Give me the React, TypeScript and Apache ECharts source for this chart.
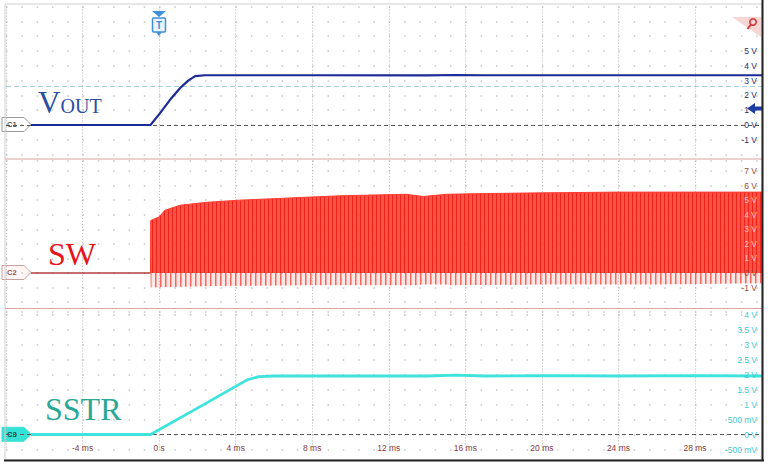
import React, { useEffect, useRef } from 'react';
import * as echarts from 'echarts';

// ---- data (time in ms, voltage in V) ----
const timeTickLabels = ['-4 ms', '0 s', '4 ms', '8 ms', '12 ms', '16 ms', '20 ms', '24 ms', '28 ms'];

const voutTime = [-6.7, -0.45, 0.05, 0.57, 1.1, 1.52, 1.88, 2.4, 8, 14, 15.5, 17, 22, 31.5];
const voutVolts = [0, 0, 0.8, 1.7, 2.5, 3.0, 3.3, 3.36, 3.36, 3.35, 3.38, 3.36, 3.36, 3.36];

const swBaseTime = [-6.7, -0.45];
const swBaseVolts = [0, 0];

const swTopTime = [-0.45, -0.44, 0.0, 0.3, 1.1, 2.5, 4.2, 6.0, 7.7, 9.5, 12.9, 13.8, 15.0, 17.0, 20.0, 24.0, 28.0, 31.5];
const swTopVolts = [0, 3.6, 3.85, 4.3, 4.65, 4.85, 5.0, 5.1, 5.2, 5.3, 5.4, 5.25, 5.4, 5.45, 5.5, 5.55, 5.55, 5.55];

const swLowTime = [-0.45, -0.44, 3.0, 8.0, 13.6, 13.7, 15.0, 15.1, 20.0, 26.0, 31.5];
const swLowVolts = [0, -1.0, -0.9, -0.85, -0.85, -0.8, -0.8, -0.85, -0.8, -0.8, -0.7];

const sstrTime = [-6.7, -0.45, 2.0, 4.6, 5.2, 6.0, 10, 14, 15.5, 17, 20, 24, 28, 31.5];
const sstrVolts = [0, 0, 0.88, 1.82, 1.93, 1.95, 1.95, 1.95, 1.98, 1.95, 1.96, 1.95, 1.96, 1.95];

const voutTicks = [-1, 0, 1, 2, 3, 4, 5];
const swTicks = [-1, 0, 1, 2, 3, 4, 5, 6, 7];
const sstrTicks = [-0.5, 0, 0.5, 1, 1.5, 2, 2.5, 3, 3.5, 4];

const zip = (a: number[], b: number[]) => a.map((t, i) => [t, b[i]]);

function stripePattern(w: number, lineW: number, color: string, bg: string) {
  const c = document.createElement('canvas');
  c.width = w;
  c.height = 8;
  const ctx = c.getContext('2d');
  if (ctx) {
    ctx.fillStyle = bg;
    ctx.fillRect(0, 0, w, 8);
    ctx.fillStyle = color;
    ctx.fillRect(0, 0, lineW, 8);
  }
  return c;
}

export default function App() {
  const ref = useRef<HTMLDivElement>(null);

  useEffect(() => {
    if (!ref.current) return;
    const chart = echarts.init(ref.current, undefined, { renderer: 'svg' });

    const X_MIN = -8;
    const X_MAX = 31.5;
    const LEFT = 6;
    const RIGHT = 11;
    const dotDash = [1.5, 13.81];

    const panels = [
      { min: -2, max: 8, interval: 1, top: 6.6, height: 148 },
      { min: -2, max: 7.7, interval: 1, top: 160.8, height: 141.3 },
      { min: -0.5, max: 4.1, interval: 0.5, top: 311.5, height: 138 },
    ];

    const grid = panels.map((p) => ({ left: LEFT, right: RIGHT, top: p.top, height: p.height }));

    const xAxis = panels.map((_, i) => ({
      type: 'value',
      gridIndex: i,
      min: X_MIN,
      max: X_MAX,
      interval: 4,
      axisLine: { show: false },
      axisTick: { show: false },
      axisLabel:
        i === 2
          ? {
              show: true,
              showMinLabel: false,
              margin: -6,
              fontSize: 8.5,
              fontFamily: 'Liberation Sans',
              color: '#8a3a3a',
              formatter: (v: number) => {
                const idx = Math.round(v / 4) + 1;
                return timeTickLabels[idx] ?? '';
              },
            }
          : { show: false },
      splitLine: { show: true, lineStyle: { color: '#b8b8b8', type: [1, 2], width: 1 } },
    }));

    const fmtV = (v: number) => `${v} V`;
    const fmtMv = (v: number) => (Math.abs(v) < 1 && v !== 0 ? `${Math.round(v * 1000)} mV` : `${v} V`);

    const labelColor = (i: number) =>
      i === 0
        ? '#1f2d6e'
        : i === 1
        ? (val: any) => {
            const n = Number(val);
            return n >= 1 && n <= 5 ? 'rgba(255,210,200,0.9)' : '#9a4a40';
          }
        : '#3fc9d2';

    const yAxis: any[] = [];
    panels.forEach((p, i) => {
      yAxis.push({
        type: 'value',
        gridIndex: i,
        position: 'right',
        min: p.min,
        max: p.max,
        interval: p.interval,
        axisLine: { show: false },
        axisTick: { show: false },
        axisLabel: { show: false },
        splitLine: {
          show: true,
          lineStyle: { color: '#c6c6c6', width: 1.5, type: dotDash, dashOffset: 0 },
        },
      });
    });
    panels.forEach((p, i) => {
      const ticks = i === 0 ? voutTicks : i === 1 ? swTicks : sstrTicks;
      yAxis.push({
        type: 'value',
        gridIndex: i,
        position: 'right',
        min: p.min,
        max: p.max,
        interval: p.interval,
        z: 5,
        axisLine: { show: false },
        axisTick: { show: false },
        splitLine: { show: false },
        axisLabel: {
          inside: true,
          margin: 5,
          fontSize: 8.5,
          fontFamily: 'Liberation Sans',
          color: labelColor(i),
          formatter: (v: number) => {
            const ok = ticks.some((t) => Math.abs(t - v) < 1e-6);
            if (!ok) return '';
            return i === 2 ? fmtMv(v) : fmtV(v);
          },
        },
      });
    });

    const zeroLine = { yAxis: 0, lineStyle: { color: '#5a5a5a', type: [4, 3], width: 1 } };

    const series: any[] = [
      {
        name: 'VOUT',
        type: 'line',
        xAxisIndex: 0,
        yAxisIndex: 0,
        data: zip(voutTime, voutVolts),
        symbol: 'none',
        lineStyle: { color: '#1b2a96', width: 2.2 },
        z: 4,
        markLine: {
          silent: true,
          symbol: 'none',
          label: { show: false },
          z: 2,
          data: [zeroLine, { yAxis: 2.6, lineStyle: { color: '#a8cfe2', type: [5, 3], width: 1.2 } }],
        },
      },
      {
        name: 'SW base',
        type: 'line',
        xAxisIndex: 1,
        yAxisIndex: 1,
        data: zip(swBaseTime, swBaseVolts),
        symbol: 'none',
        lineStyle: { color: '#b43c3c', width: 1.5 },
      },
      {
        name: 'SW low',
        type: 'line',
        xAxisIndex: 1,
        yAxisIndex: 1,
        data: zip(swLowTime, swLowVolts),
        symbol: 'none',
        lineStyle: { width: 0 },
        areaStyle: {
          color: { image: stripePattern(5, 1.5, 'rgba(240,60,50,0.75)', 'rgba(250,120,110,0.18)'), repeat: 'repeat' },
          opacity: 1,
        },
      },
      {
        name: 'SW',
        type: 'line',
        xAxisIndex: 1,
        yAxisIndex: 1,
        data: zip(swTopTime, swTopVolts),
        symbol: 'none',
        lineStyle: { color: '#ff3b30', width: 1 },
        areaStyle: {
          opacity: 1,
          color: { image: stripePattern(4, 1, 'rgba(236,36,28,0.97)', 'rgba(255,62,50,0.9)'), repeat: 'repeat' },
        },
      },
      {
        name: 'SSTR',
        type: 'line',
        xAxisIndex: 2,
        yAxisIndex: 2,
        data: zip(sstrTime, sstrVolts),
        symbol: 'none',
        lineStyle: { color: '#3de3dc', width: 2.8 },
        z: 4,
        markLine: {
          silent: true,
          symbol: 'none',
          label: { show: false },
          z: 2,
          data: [zeroLine],
        },
      },
    ];

    const serif = 'Liberation Serif';
    const tag = (label: string, cy: number, fill: string, stroke: string, textColor: string) => ({
      type: 'group',
      z: 20,
      children: [
        {
          type: 'polygon',
          shape: { points: [[2, cy - 7], [24, cy - 7], [31, cy], [24, cy + 7], [2, cy + 7]] },
          style: { fill, stroke, lineWidth: 1 },
        },
        {
          type: 'text',
          x: 7,
          y: cy,
          style: { text: label, fill: textColor, fontSize: 7.5, fontWeight: 'bold', fontFamily: 'Liberation Sans', verticalAlign: 'middle' },
        },
      ],
    });

    const graphic: any[] = [
      { type: 'rect', shape: { x: 5, y: 4, width: 757, height: 456 }, style: { fill: 'none', stroke: '#d0d0d0', lineWidth: 1 }, z: 1 },
      { type: 'line', shape: { x1: 4, y1: 460.5, x2: 764, y2: 460.5 }, style: { stroke: '#222', lineWidth: 2 }, z: 30 },
      { type: 'line', shape: { x1: 762.5, y1: 0, x2: 762.5, y2: 461 }, style: { stroke: '#222', lineWidth: 2 }, z: 30 },
      { type: 'line', shape: { x1: 5, y1: 159, x2: 762, y2: 159 }, style: { stroke: '#d9a29c', lineWidth: 1 }, z: 10 },
      { type: 'line', shape: { x1: 5, y1: 308.5, x2: 762, y2: 308.5 }, style: { stroke: '#d9a29c', lineWidth: 1 }, z: 10 },
      tag('C1', 124.5, '#ffffff', '#9a9a9a', '#555555'),
      tag('C2', 272.5, '#fff5f4', '#c9a09c', '#8a5a55'),
      tag('C3', 434.3, '#34e2d6', '#34e2d6', '#0f4a48'),
      { type: 'text', x: 38, y: 102.5, z: 20, style: { text: 'V', fontSize: 31, fontFamily: serif, fill: '#2a4ea0', verticalAlign: 'middle' } },
      { type: 'text', x: 60.5, y: 106.3, z: 20, style: { text: 'OUT', fontSize: 20, fontFamily: serif, fill: '#2a4ea0', verticalAlign: 'middle' } },
      { type: 'text', x: 48, y: 254.2, z: 20, style: { text: 'SW', fontSize: 32, fontFamily: serif, fill: '#e8141c', verticalAlign: 'middle' } },
      { type: 'text', x: 45, y: 409.2, z: 20, style: { text: 'SSTR', fontSize: 32, fontFamily: serif, fill: '#2aa896', verticalAlign: 'middle' } },
      { type: 'polygon', z: 20, shape: { points: [[152, 11], [166, 11], [159, 17]] }, style: { fill: '#3f8fd9' } },
      { type: 'rect', z: 20, shape: { x: 152.5, y: 18, width: 13, height: 14, r: 1 }, style: { fill: '#eaf4fc', stroke: '#3f8fd9', lineWidth: 1.5 } },
      { type: 'polygon', z: 20, shape: { points: [[156, 32], [162, 32], [159, 36]] }, style: { fill: '#3f8fd9' } },
      { type: 'text', x: 159, y: 25.5, z: 21, style: { text: 'T', fontSize: 10, fontWeight: 'bold', fontFamily: 'Liberation Sans', fill: '#3f8fd9', align: 'center', verticalAlign: 'middle' } },
      { type: 'polygon', z: 20, shape: { points: [[732, 17], [761, 17], [761, 37]] }, style: { fill: '#f6d5d5' } },
      { type: 'circle', z: 21, shape: { cx: 753, cy: 22, r: 3.2 }, style: { fill: 'none', stroke: '#d4383a', lineWidth: 1.6 } },
      { type: 'line', z: 21, shape: { x1: 751, y1: 24.5, x2: 747.5, y2: 29 }, style: { stroke: '#d4383a', lineWidth: 2 } },
      { type: 'polygon', z: 20, shape: { points: [[747, 108.5], [755, 103], [755, 114]] }, style: { fill: '#1c3fa0' } },
      { type: 'rect', z: 20, shape: { x: 754, y: 106.5, width: 8, height: 4 }, style: { fill: '#1c3fa0' } },
    ];

    chart.setOption({
      animation: false,
      backgroundColor: '#ffffff',
      grid,
      xAxis,
      yAxis,
      series,
      graphic,
    });

    return () => chart.dispose();
  }, []);

  return <div ref={ref} style={{ width: 773, height: 470, position: 'absolute', left: 0, top: 0 }} />;
}
